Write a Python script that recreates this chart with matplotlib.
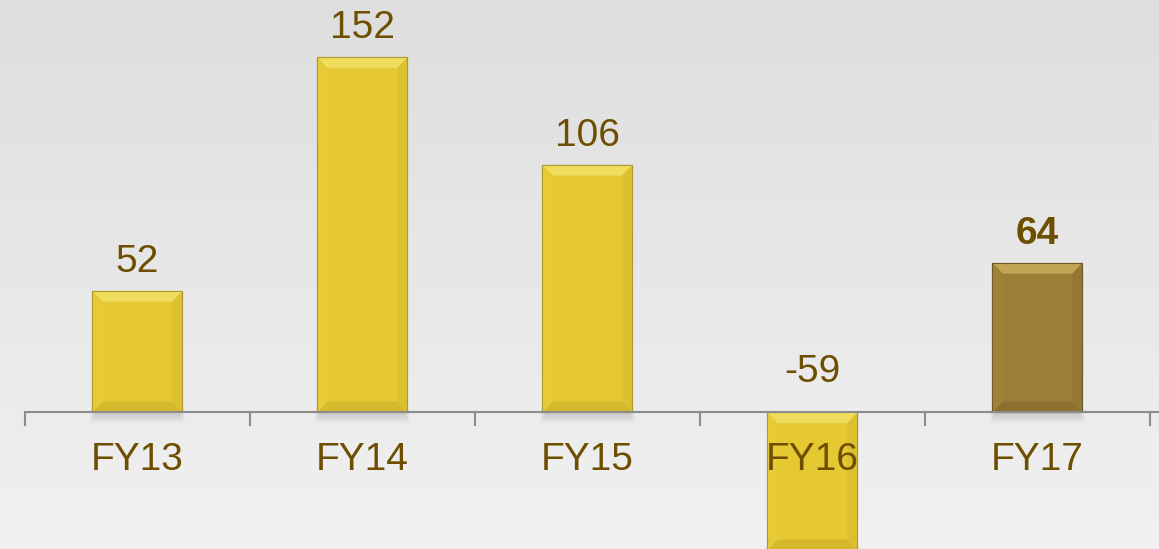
import numpy as np
import matplotlib

matplotlib.use('Agg')
import matplotlib.pyplot as plt
from matplotlib.patches import Polygon, Rectangle

plt.rcParams['font.family'] = ['Liberation Sans', 'DejaVu Sans']

years = ['FY13', 'FY14', 'FY15', 'FY16', 'FY17']
values = [52, 152, 106, -59, 64]
highlight = [False, False, False, False, True]

# palette: (face, top bevel, left bevel, right bevel, bottom bevel, edge)
gold = ('#E5C832', '#F0DD5E', '#E7CB36', '#DDC02F', '#D6B82C', '#B09A30')
bronze = ('#9C7F36', '#C2A656', '#9F823A', '#937832', '#8B702F', '#6E5A26')
text_color = '#6E4E00'

fig = plt.figure(figsize=(11.59, 5.49), dpi=100)

# soft vertical background gradient
bg = fig.add_axes([0, 0, 1, 1], zorder=0)
grad = np.linspace(0, 1, 256).reshape(-1, 1)
bg.imshow(grad, aspect='auto', cmap=matplotlib.colors.LinearSegmentedColormap.from_list(
    'bg', ['#DEDEDE', '#F1F1F1']), extent=[0, 1, 0, 1], origin='upper')
bg.axis('off')

ax = fig.add_axes([0, 0, 1, 1], zorder=1)
ax.patch.set_alpha(0)
ax.set_xlim(-0.611, 4.54)
ax.set_ylim(-58.5, 176.6)
ax.axis('off')

width = 0.4
bx, by = 0.045, 4.6  # bevel size in data units

x = np.arange(len(years))
for xi, v, hi in zip(x, values, highlight):
    face, top_c, left_c, right_c, bot_c, edge = bronze if hi else gold
    lo, hi_y = min(0, v), max(0, v)
    x0, x1 = xi - width / 2, xi + width / 2

    # soft shadow under the bar
    for k in range(6):
        ax.add_patch(Rectangle((x0 + 0.01 - k * 0.004, lo - 1.5 - k * 0.6),
                               width - 0.02 + k * 0.008, 3 + k * 0.6,
                               facecolor='#707070', alpha=0.04, lw=0, zorder=1))

    ax.bar(xi, v, width=width, color=face, edgecolor=edge, linewidth=0.8, zorder=2)
    ax.add_patch(Polygon([(x0, hi_y), (x1, hi_y), (x1 - bx, hi_y - by), (x0 + bx, hi_y - by)],
                         closed=True, facecolor=top_c, lw=0, zorder=3))
    ax.add_patch(Polygon([(x0, lo), (x1, lo), (x1 - bx, lo + by), (x0 + bx, lo + by)],
                         closed=True, facecolor=bot_c, lw=0, zorder=3))
    ax.add_patch(Polygon([(x0, lo), (x0, hi_y), (x0 + bx, hi_y - by), (x0 + bx, lo + by)],
                         closed=True, facecolor=left_c, lw=0, zorder=3))
    ax.add_patch(Polygon([(x1, lo), (x1, hi_y), (x1 - bx, hi_y - by), (x1 - bx, lo + by)],
                         closed=True, facecolor=right_c, lw=0, zorder=3))
    ax.add_patch(Rectangle((x0, lo), width, hi_y - lo, fill=False, edgecolor=edge,
                           linewidth=0.8, zorder=4))

# category axis
ax.plot([-0.5, 4.6], [0, 0], color='#8C8C8C', lw=1.5, zorder=5, solid_capstyle='butt')
for t in np.arange(len(years) + 1) - 0.5:
    ax.plot([t, t], [0, -5.2], color='#8C8C8C', lw=1.5, zorder=5)

for xi, v, hi, name in zip(x, values, highlight, years):
    ax.annotate(f'{v}', (xi, max(v, 0)), xytext=(0, 19 if v > 0 else 30),
                textcoords='offset pixels', ha='center', va='baseline',
                fontsize=28, fontweight='bold' if hi else 'normal',
                color=text_color, zorder=6)
    ax.annotate(name, (xi, 0), xytext=(0, -58), textcoords='offset pixels',
                ha='center', va='baseline', fontsize=28, color=text_color, zorder=6)

fig.savefig('out.png', dpi=100)
